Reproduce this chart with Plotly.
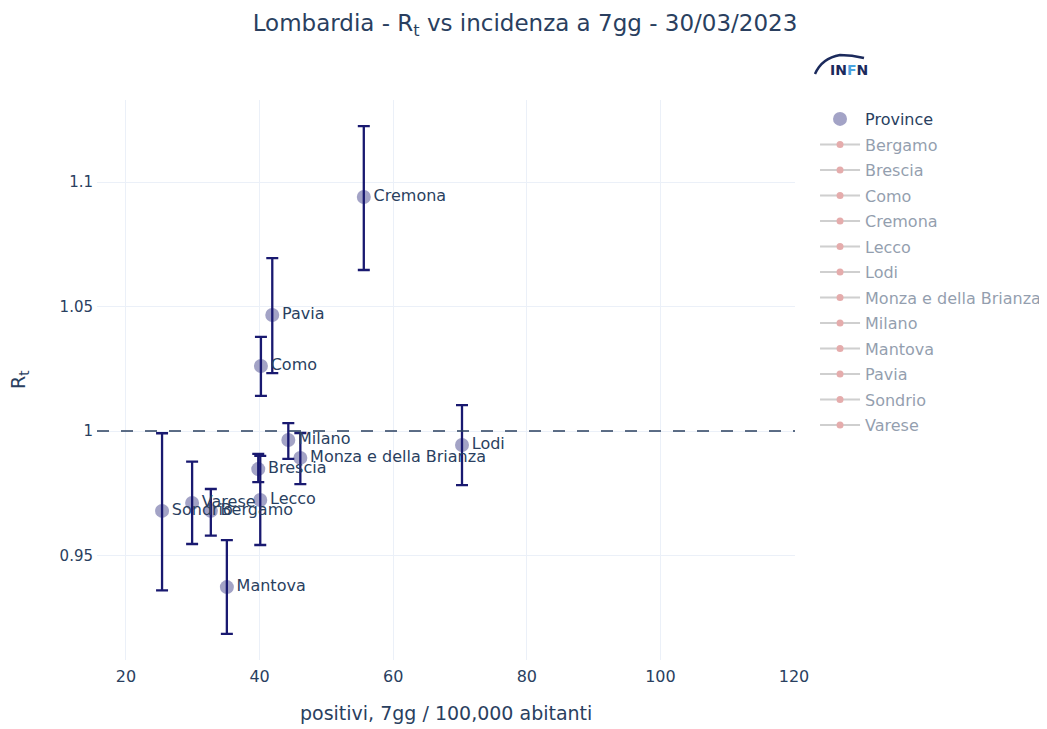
import plotly.graph_objects as go

# ---- data ----
province = ["Bergamo", "Brescia", "Como", "Cremona", "Lecco", "Lodi",
            "Monza e della Brianza", "Milano", "Mantova", "Pavia", "Sondrio", "Varese"]
incidenza = [32.7, 39.8, 40.2, 55.6, 40.1, 70.3, 46.1, 44.3, 35.1, 41.9, 25.4, 29.9]
rt = [0.9679, 0.9847, 1.0261, 1.0940, 0.9723, 0.9944, 0.9892, 0.9964, 0.9373, 1.0466, 0.9679, 0.9711]
rt_upper = [0.9767, 0.9908, 1.0378, 1.1225, 0.9900, 1.0104, 0.9992, 1.0032, 0.9562, 1.0695, 0.9991, 0.9877]
rt_lower = [0.9580, 0.9795, 1.0141, 1.0647, 0.9542, 0.9783, 0.9787, 0.9888, 0.9185, 1.0233, 0.9360, 0.9546]
x_ticks = [20, 40, 60, 80, 100, 120]
y_ticks = [0.95, 1, 1.05, 1.1]

title_text = "Lombardia - R<sub>t</sub> vs incidenza a 7gg - 30/03/2023"
x_title = "positivi, 7gg / 100,000 abitanti"
y_title = "R<sub>t</sub>"

err_plus = [u - v for u, v in zip(rt_upper, rt)]
err_minus = [v - l for v, l in zip(rt, rt_lower)]

W, H = 1047, 729
OFF = 8  # page body margin
ML, MT = 89, 92
PW, PH = 698, 560
MR = W - ML - PW
MB = H - MT - PH


def px2paper(sx, sy):
    """screen pixel -> paper coords"""
    fx, fy = sx - OFF, sy - OFF
    return (fx - ML) / PW, 1 - (fy - MT) / PH


FONT = "DejaVu Sans"
NAVY = "midnightblue"
fig = go.Figure()

fig.add_trace(go.Scatter(
    x=incidenza, y=rt, mode="markers+text", name="Province", legendgroup="Province",
    text=province, textposition="middle right",
    textfont=dict(size=16, color="#2a3f5f"),
    marker=dict(size=14, color=NAVY, opacity=0.4),
    error_y=dict(type="data", symmetric=False, array=err_plus, arrayminus=err_minus,
                 color=NAVY, thickness=2.3, width=6),
))

for name in province:
    fig.add_trace(go.Scatter(
        x=[None], y=[None], mode="lines+markers", name=name, legendgroup=name,
        visible="legendonly",
        line=dict(color="#a0a0a0", width=2), marker=dict(color="indianred", size=7),
    ))

fig.add_shape(type="line", xref="paper", yref="y", x0=0, x1=1, y0=1, y1=1,
              line=dict(color="#2a3f5f", width=1.6, dash="12px,12px"))

# INFN logo (approximation with text + swoosh)
p0 = px2paper(815, 74)
p1 = px2paper(822, 58)
p2 = px2paper(840, 55)
p3 = px2paper(864, 58)
fig.add_shape(type="path", xref="paper", yref="paper",
              path=(f"M {p0[0]} {p0[1]} Q {p1[0]} {p1[1]} {p2[0]} {p2[1]} "
                    f"Q {(p2[0]+p3[0])/2} {p2[1]} {p3[0]} {p3[1]}"),
              line=dict(color="#1b2a5c", width=2.5))
lx, ly = px2paper(849, 70)
fig.add_annotation(xref="paper", yref="paper", x=lx, y=ly, showarrow=False,
                   xanchor="center", yanchor="middle",
                   text="<b>IN<span style='color:#4aa3df'>F</span>N</b>",
                   font=dict(family=FONT, size=14, color="#1b2a5c"))

# axis titles as annotations for exact placement
ax, ay = px2paper(446, 713)
fig.add_annotation(xref="paper", yref="paper", x=0.5, y=ay, showarrow=False,
                   xanchor="center", yanchor="middle", text=x_title,
                   font=dict(size=19, color="#2a3f5f"))
bx, by = px2paper(19, 380)
fig.add_annotation(xref="paper", yref="paper", x=bx, y=0.5, showarrow=False,
                   xanchor="center", yanchor="middle", text=y_title, textangle=-90,
                   font=dict(size=19, color="#2a3f5f"))

fig.update_layout(
    template="plotly_white",
    width=W, height=H,
    margin=dict(l=ML, r=MR, t=MT, b=MB, autoexpand=False),
    font=dict(family=FONT, size=15, color="#2a3f5f"),
    title=dict(text=title_text, x=(525 - OFF) / W, xanchor="center", xref="container",
               yref="container", y=1 - (23 - OFF) / H, yanchor="middle",
               font=dict(size=23)),
    xaxis=dict(range=[15.66, 120.15], tickvals=x_ticks, zeroline=False,
               tickfont=dict(size=16), ticklabelstandoff=5),
    yaxis=dict(range=[0.908, 1.133], tickvals=y_ticks, zeroline=False,
               tickfont=dict(size=15), ticklabelstandoff=3),
    legend=dict(x=1.0287, y=1 - 2 / PH, xanchor="left", yanchor="top", font=dict(size=16),
                itemwidth=40, tracegroupgap=1.7, traceorder="grouped"),
    showlegend=True,
)

fig.write_html("out.html")
